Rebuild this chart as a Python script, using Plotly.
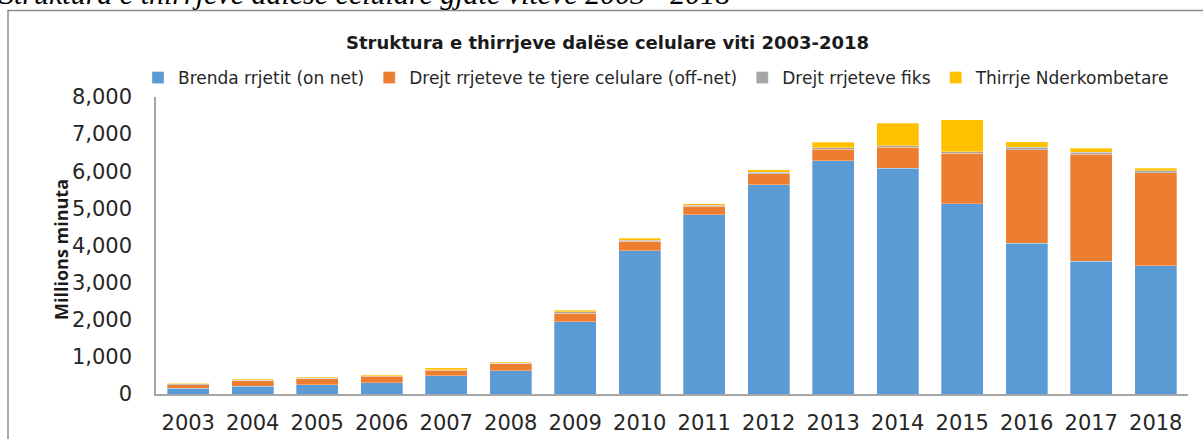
import plotly.graph_objects as go

years = [str(y) for y in range(2003, 2019)]

on_net = [150, 215, 245, 305, 490, 630, 1950, 3860, 4825, 5635, 6280, 6075, 5120, 4060, 3575, 3460]
off_net = [100, 140, 160, 170, 150, 180, 230, 250, 230, 300, 310, 575, 1370, 2515, 2885, 2495]
fiks = [20, 15, 15, 20, 20, 20, 30, 30, 25, 40, 40, 40, 40, 75, 55, 55]
nderkombetare = [25, 25, 25, 30, 50, 30, 50, 50, 40, 70, 150, 605, 855, 150, 105, 75]

series = [
    ('Brenda rrjetit (on net)', on_net, '#5B9BD5'),
    ('Drejt rrjeteve te tjere celulare (off-net)', off_net, '#ED7D31'),
    ('Drejt rrjeteve fiks', fiks, '#A5A5A5'),
    ('Thirrje Nderkombetare', nderkombetare, '#FFC000'),
]

W, H = 1203, 439
L, R, T, B = 156, 15, 97, 45
pw, ph = W - L - R, H - T - B


def px_x(x):
    return (x - L) / pw


def px_y(y):
    return (H - B - y) / ph


fig = go.Figure()
for name, vals, col in series:
    fig.add_trace(go.Bar(
        x=years, y=vals, name=name,
        marker_color=col,
        marker_line_color='rgba(255,255,255,0.6)',
        marker_line_width=0.5,
    ))

tick_font = dict(family='DejaVu Sans', size=21, color='#262626')

fig.update_layout(
    width=W, height=H,
    margin=dict(l=L, r=R, t=T, b=B, autoexpand=False),
    barmode='stack',
    bargap=0.35,
    plot_bgcolor='white',
    paper_bgcolor='white',
    font=dict(family='DejaVu Sans', color='#262626'),
    showlegend=True,
    legend=dict(
        orientation='h',
        x=px_x(138), xanchor='left',
        y=px_y(78), yanchor='middle',
        font=dict(family='DejaVu Sans', size=17, color='#262626'),
        itemwidth=30,
        traceorder='normal',
    ),
    xaxis=dict(
        showline=True, linecolor='#A6A6A6', linewidth=1.5,
        ticks='', tickfont=tick_font, ticklabelstandoff=9,
        showgrid=False,
    ),
    yaxis=dict(
        range=[0, 8000], dtick=1000, tickformat=',',
        showline=True, linecolor='#A6A6A6', linewidth=1.5,
        ticks='', tickfont=tick_font, ticklabelstandoff=18,
        showgrid=False, zeroline=False,
    ),
)

fig.add_annotation(
    text='<b>Struktura e thirrjeve dalëse celulare viti 2003-2018</b>',
    xref='paper', yref='paper', x=px_x(607), y=px_y(42),
    xanchor='center', yanchor='middle', showarrow=False,
    font=dict(family='DejaVu Sans', size=18, color='#1a1a1a'),
)

fig.add_annotation(
    text='<b>Millions minuta</b>',
    xref='paper', yref='paper', x=px_x(61), y=px_y(250),
    xanchor='center', yanchor='middle', textangle=-90, showarrow=False,
    font=dict(family='Open Sans', size=18, color='#1a1a1a'),
)

# caption of the figure above the chart frame, cut at the top as in the source
fig.add_annotation(
    text='<i>Struktura e thirrjeve dalëse celulare gjatë viteve 2003 - 2018</i>',
    xref='paper', yref='paper', x=px_x(-3), y=px_y(-6),
    xanchor='left', yanchor='middle', showarrow=False,
    font=dict(family='Liberation Serif', size=30, color='black'),
)

# chart frame (right and bottom edges run off the page)
fig.add_shape(
    type='rect', xref='paper', yref='paper',
    x0=px_x(8), x1=px_x(1260), y0=px_y(480), y1=px_y(10.5),
    line=dict(color='#8C8C8C', width=1.5), layer='below',
)

# the page body has a default 8px margin; drop it so the figure sits at 0,0
fig.write_html('out.html', config={'displayModeBar': False},
               post_script="document.body.style.margin='0';")
